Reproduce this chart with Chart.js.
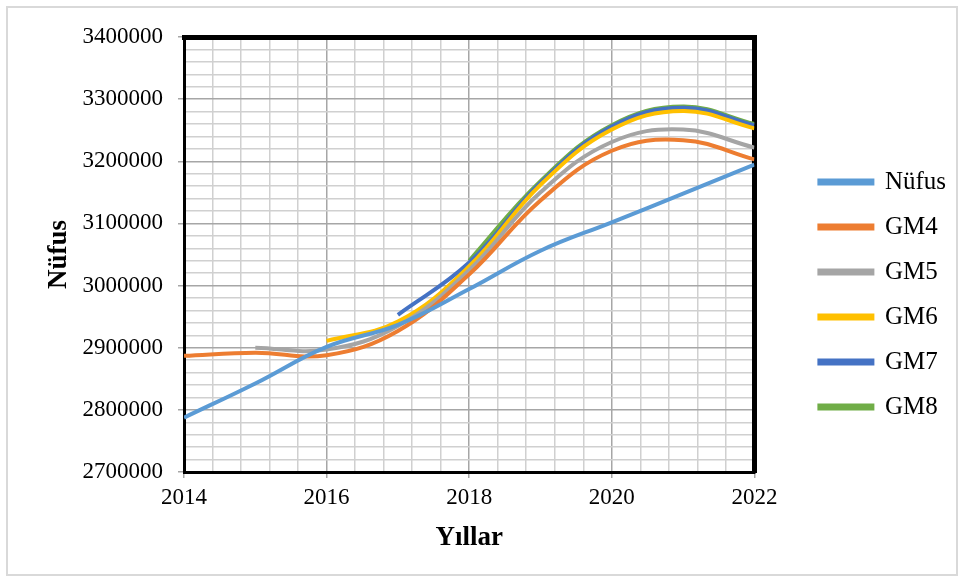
<!DOCTYPE html>
<html>
<head>
<meta charset="utf-8">
<script src="https://cdn.jsdelivr.net/npm/chart.js@4/dist/chart.umd.min.js"></script>
<style>
  html, body { margin: 0; padding: 0; background: #fff; }
  #frame { position: absolute; left: 6px; top: 6px; width: 948px; height: 566px; border: 2px solid #d9d9d9; }
  #wrap { position: absolute; left: 0; top: 0; width: 962px; height: 581px; }
</style>
</head>
<body>
<div id="frame"></div>
<div id="wrap"><canvas id="myChart" width="962" height="581"></canvas></div>
<script>
const years = [2014, 2015, 2016, 2017, 2018, 2019, 2020, 2021, 2022];
const nufus = [2787539, 2842547, 2901396, 2936803, 2994521, 3056120, 3101833, 3147818, 3194720];
const gm4 = [2887000, 2892000, 2888000, 2927000, 3018000, 3137000, 3217000, 3234000, 3203000];
const gm5 = [null, 2900000, 2897000, 2935000, 3025000, 3150000, 3231000, 3251000, 3222000];
const gm6 = [null, null, 2911000, 2942000, 3031000, 3162000, 3251000, 3281000, 3253000];
const gm7 = [null, null, null, 2953000, 3037000, 3165000, 3256000, 3286000, 3258000];
const gm8 = [null, null, null, null, 3040000, 3168000, 3258000, 3288000, 3260000];

const serif = "'Liberation Serif', 'Times New Roman', serif";

const toPoints = (vals) => years
  .map((y, i) => ({ x: y, y: vals[i] }))
  .filter(p => p.y !== null);

const makeSet = (label, vals, color) => ({
  label: label,
  data: toPoints(vals),
  borderColor: color,
  backgroundColor: color,
  borderWidth: 4,
  tension: 0.4,
  pointRadius: 0,
  fill: false
});

const isMajorX = v => Math.abs(v / 2 - Math.round(v / 2)) < 1e-6;
const isMajorY = v => Math.abs(v / 100000 - Math.round(v / 100000)) < 1e-6;

const ctx = document.getElementById('myChart').getContext('2d');
new Chart(ctx, {
  type: 'scatter',
  data: {
    datasets: [
      makeSet('Nüfus', nufus, '#5B9BD5'),
      makeSet('GM4', gm4, '#ED7D31'),
      makeSet('GM5', gm5, '#A5A5A5'),
      makeSet('GM6', gm6, '#FFC000'),
      makeSet('GM7', gm7, '#4472C4'),
      makeSet('GM8', gm8, '#70AD47')
    ]
  },
  options: {
    responsive: false,
    animation: false,
    showLine: true,
    layout: { padding: { left: 10, top: 37, bottom: 29, right: 6 } },
    plugins: {
      tooltip: { enabled: false },
      legend: {
        position: 'right',
        labels: {
          boxWidth: 53,
          boxHeight: 3,
          padding: 20,
          color: '#000',
          font: { family: serif, size: 25 }
        }
      }
    },
    scales: {
      x: {
        type: 'linear',
        position: 'bottom',
        min: 2014,
        max: 2022,
        afterFit: s => { s.height = 80; },
        ticks: {
          stepSize: 0.4,
          autoSkip: false,
          maxRotation: 0,
          padding: 6,
          color: '#000',
          font: { family: serif, size: 23 },
          callback: v => isMajorX(v) ? String(Math.round(v)) : ''
        },
        grid: {
          lineWidth: 1.5,
          tickLength: 6,
          color: c => (c.tick && isMajorX(c.tick.value)) ? '#a6a6a6' : '#d0d0d0',
          tickColor: c => (c.tick && isMajorX(c.tick.value)) ? '#a6a6a6' : 'rgba(0,0,0,0)'
        },
        border: { display: true, color: '#000', width: 3 },
        title: {
          display: true,
          text: 'Yıllar',
          color: '#000',
          padding: { top: 0, bottom: 0 },
          font: { family: serif, size: 27, weight: 'bold', lineHeight: 1 }
        }
      },
      y: {
        type: 'linear',
        position: 'left',
        min: 2700000,
        max: 3400000,
        afterFit: s => { s.width = 174; },
        ticks: {
          stepSize: 20000,
          autoSkip: false,
          padding: 15,
          color: '#000',
          font: { family: serif, size: 23 },
          callback: v => isMajorY(v) ? String(Math.round(v)) : ''
        },
        grid: {
          lineWidth: 1.5,
          tickLength: 6,
          color: c => (c.tick && isMajorY(c.tick.value)) ? '#a6a6a6' : '#d0d0d0',
          tickColor: c => (c.tick && isMajorY(c.tick.value)) ? '#a6a6a6' : 'rgba(0,0,0,0)'
        },
        border: { display: true, color: '#000', width: 3 },
        title: {
          display: true,
          text: 'Nüfus',
          color: '#000',
          padding: { top: 36, bottom: 0 },
          font: { family: serif, size: 27, weight: 'bold', lineHeight: 1 }
        }
      },
      xTop: {
        type: 'linear',
        position: 'top',
        display: true,
        afterFit: s => { s.height = 0; },
        ticks: { display: false },
        grid: { display: false, drawTicks: false },
        border: { display: true, color: '#000', width: 5 }
      },
      yRight: {
        type: 'linear',
        position: 'right',
        display: true,
        afterFit: s => { s.width = 45; },
        ticks: { display: false },
        grid: { display: false, drawTicks: false },
        border: { display: true, color: '#000', width: 5 }
      }
    }
  }
});
</script>
</body>
</html>
